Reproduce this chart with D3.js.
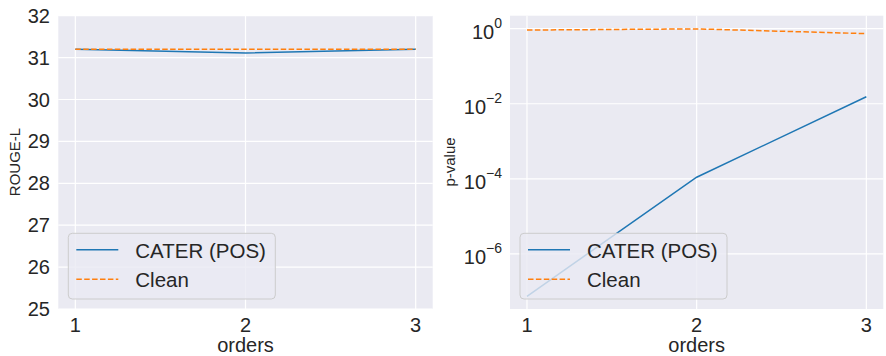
<!DOCTYPE html>
<html><head><meta charset="utf-8">
<script src="https://cdn.jsdelivr.net/npm/d3@7"></script>
<style>body{margin:0;background:#fff}svg{display:block;font-family:Arial,"Liberation Sans",sans-serif}</style>
</head><body><svg id="c" width="886" height="356"></svg>
<script>
const orders = [1, 2, 3];
const rougeCater = [31.2, 31.11, 31.2];
const rougeClean = [31.2, 31.2, 31.2];
const pCater = [7.4e-8, 1.1e-4, 0.0154];
const pClean = [0.92, 0.99, 0.74];
const rougeTicks = [25, 26, 27, 28, 29, 30, 31, 32];
const pTicks = [1, 1e-2, 1e-4, 1e-6];
const pTickExp = ["0", "−2", "−4", "−6"];
const seriesNames = ["CATER (POS)", "Clean"];
const colors = ["#1f77b4", "#ff7f0e"];
const dashes = [null, "5.5,2.4"];

const svg = d3.select("#c");
const plotTop = 15.7, plotBottom = 309;

function panel(left, right, yScale, yTicks, yLabel, ylabelX, yTickFmt, seriesArr, legX) {
  const g = svg.append("g");
  const x = d3.scaleLinear().domain([0.9, 3.1]).range([left, right]);
  g.append("rect").attr("x", left).attr("y", plotTop).attr("width", right - left).attr("height", plotBottom - plotTop).attr("fill", "#eaeaf2");
  g.selectAll(".gy").data(yTicks).enter().append("line")
    .attr("x1", left).attr("x2", right).attr("y1", d => yScale(d)).attr("y2", d => yScale(d))
    .attr("stroke", "#fff").attr("stroke-width", 1.2);
  g.selectAll(".gx").data(orders).enter().append("line")
    .attr("y1", plotTop).attr("y2", plotBottom).attr("x1", d => x(d)).attr("x2", d => x(d))
    .attr("stroke", "#fff").attr("stroke-width", 1.2);
  g.selectAll(".xt").data(orders).enter().append("text")
    .attr("x", d => x(d)).attr("y", 331.5).attr("text-anchor", "middle")
    .attr("font-size", 20).attr("fill", "#262626").text(d => d);
  g.append("text").attr("x", (left + right) / 2).attr("y", 352).attr("text-anchor", "middle")
    .attr("font-size", 20).attr("fill", "#262626").text("orders");
  g.append("text").attr("transform", `translate(${ylabelX},162) rotate(-90)`).attr("text-anchor", "middle")
    .attr("dy", "0.35em").attr("font-size", 15).attr("fill", "#262626").text(yLabel);
  yTickFmt(g, yScale);
  const line = d3.line().x((d, i) => x(orders[i])).y(d => yScale(d));
  seriesArr.forEach((s, k) => {
    g.append("path").datum(s).attr("d", line).attr("fill", "none")
      .attr("stroke", colors[k]).attr("stroke-width", 1.5)
      .attr("stroke-dasharray", dashes[k]);
  });
  const lg = g.append("g");
  lg.append("rect").attr("x", legX).attr("y", 233.3).attr("width", 207).attr("height", 65.7)
    .attr("rx", 4).attr("fill", "#eaeaf2").attr("fill-opacity", 0.8).attr("stroke", "#cccccc").attr("stroke-width", 1);
  seriesNames.forEach((n, k) => {
    const yy = 249.7 + k * 29.6;
    lg.append("line").attr("x1", legX + 8).attr("x2", legX + 50).attr("y1", yy).attr("y2", yy)
      .attr("stroke", colors[k]).attr("stroke-width", 1.5).attr("stroke-dasharray", dashes[k]);
    lg.append("text").attr("x", legX + 67).attr("y", yy + 8).attr("font-size", 20.5).attr("fill", "#262626").text(n);
  });
}

const yL = d3.scaleLinear().domain([25, 32]).range([plotBottom, plotTop]);
panel(58.3, 432.7, yL, rougeTicks, "ROUGE-L", 15, (g, y) => {
  g.selectAll(".yt").data(rougeTicks).enter().append("text")
    .attr("x", 50).attr("y", d => y(d)).attr("dy", "0.35em").attr("text-anchor", "end")
    .attr("font-size", 20).attr("fill", "#262626").text(d => d);
}, [rougeCater, rougeClean], 68.3);

const yR = d3.scaleLog().domain([Math.pow(10, -7.47), Math.pow(10, 0.347)]).range([plotBottom, plotTop]);
panel(510, 883.3, yR, pTicks, "p-value", 450, (g, y) => {
  pTicks.forEach((t, i) => {
    const tx = g.append("text").attr("x", 502).attr("y", y(t) + 10.5).attr("text-anchor", "end")
      .attr("font-size", 20).attr("fill", "#262626");
    tx.append("tspan").text("10");
    tx.append("tspan").attr("font-size", 14).attr("dy", -11).text(pTickExp[i]);
  });
}, [pCater, pClean], 520);
</script></body></html>
